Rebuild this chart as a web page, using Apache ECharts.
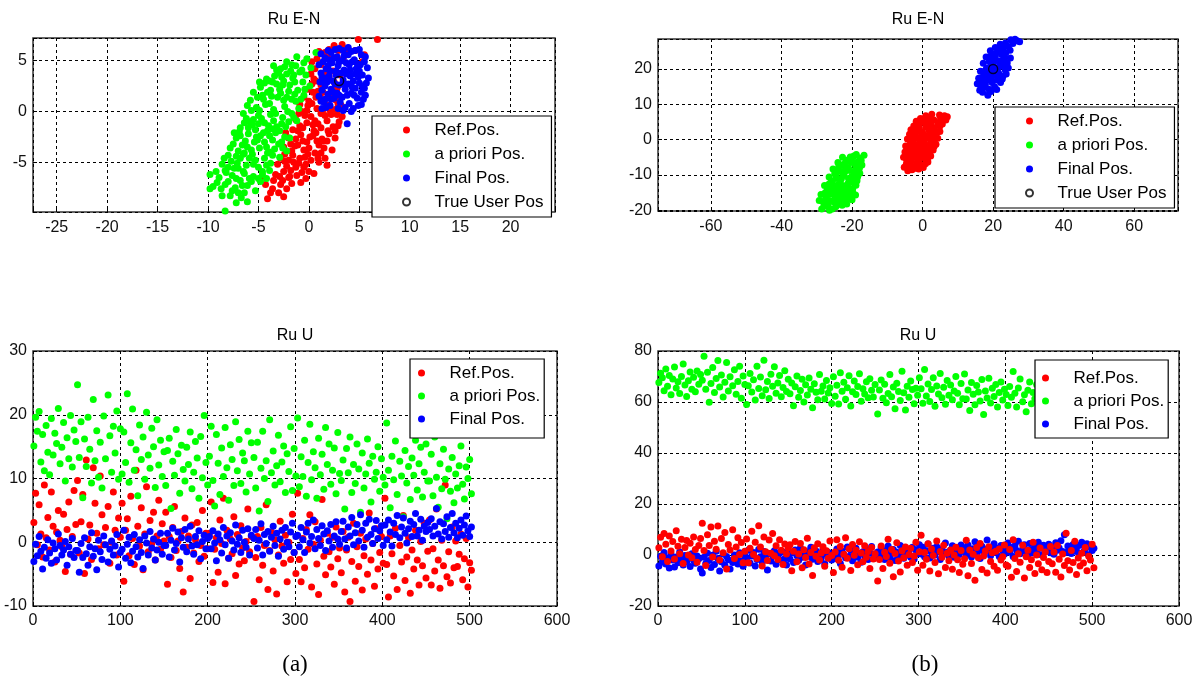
<!DOCTYPE html>
<html>
<head>
<meta charset="utf-8">
<title>Ru E-N / Ru U</title>
<script src="https://cdn.jsdelivr.net/npm/echarts@6.0.0/dist/echarts.min.js"></script>
<style>
html, body { margin: 0; padding: 0; background: #fff; }
#main { width: 1200px; height: 683px; }
</style>
</head>
<body>
<div id="main"></div>
<script>
// (a) top: Ru E-N, east/north in metres
const tlRef = [
  [0.8,5.2],[1.6,5.8],[2.5,6.5],[4.9,7.1],[6.8,7.1],[1.2,4.6],[2.2,4.9],[3.4,5.2],[5.3,4.9],[0.6,4.2],
  [0.5,3.2],[1.2,2.6],[2.0,3.4],[2.8,2.3],[0.9,2.0],[1.7,3.9],[3.1,3.6],[0.3,2.7],
  [-0.5,1.4],[0.3,0.8],[1.1,1.6],[1.9,0.6],[2.6,0.2],[-0.2,0.1],[0.8,0.3],[1.5,1.1],[2.3,1.5],[-0.9,0.7],
  [-1.3,-0.8],[-0.6,-1.6],[0.2,-0.5],[0.9,-1.2],[1.6,-0.4],[2.4,-1.5],[3.0,-1.0],[-1.0,-0.2],[0.5,-1.9],[1.9,-1.9],[-0.2,-1.1],[2.2,-0.3],
  [-2.0,-2.6],[-1.4,-3.4],[-0.8,-2.3],[-0.2,-3.0],[0.4,-2.4],[1.0,-3.3],[1.5,-3.6],[-1.7,-3.9],[-0.5,-3.8],[0.7,-2.1],[2.0,-2.2],[-2.5,-3.5],
  [-2.8,-4.6],[-2.2,-5.4],[-1.6,-4.3],[-1.0,-5.1],[-0.4,-4.5],[0.2,-4.8],[-0.5,-5.5],[-2.5,-5.9],[1.8,-5.3],[-1.8,-5.8],[0.6,-4.1],[-3.1,-5.2],
  [-3.5,-6.8],[-2.8,-7.2],[-2.2,-7.6],[-1.2,-6.3],[-4.1,-8.6],[-3.3,-6.2],[-4.8,-6.6],[-2.0,-6.5],[-4.3,-7.2],
  [-1.1,-1.9],[-0.1,0.6],[1.3,-2.7],[-1.5,-5.0],[0.0,-3.6],[2.7,1.1],[-2.4,-4.2],[1.4,0.2],[-0.7,-6.0],[0.4,1.9],
  [1.0,5.9],[2.0,6.1],[3.3,6.6],[4.6,6.0],[5.5,5.6],[0.2,3.7],[0.7,3.0],[1.4,1.9],[2.5,2.9],[-0.1,2.2],
  [-0.7,0.0],[0.6,-0.9],[1.8,-0.9],[2.8,-0.3],[-0.9,-1.4],[0.1,-2.5],[1.4,-2.9],[-1.3,-2.7],[-0.9,-4.6],[0.9,-4.6],
  [-2.0,-4.8],[-1.3,-5.5],[-2.6,-6.8],[-3.6,-7.6],[-1.7,-7.1],[-3.0,-8.0],[-2.9,-6.4],[0.0,-5.9],[2.6,-2.6],[3.2,0.6],
  [-1.8,-3.2],[-2.3,-2.1],[1.6,-4.6],[-0.3,-6.6],[2.4,4.0],[3.8,6.1],
  [0.3,4.9],[1.9,5.3],[2.9,6.0],[0.0,1.0],[0.7,1.4],[1.2,-0.2],[2.1,0.1],[2.9,0.7],[-0.4,-0.4],[0.4,-1.3],
  [1.2,-1.6],[2.6,-1.9],[-1.6,-1.8],[-0.6,-2.9],[0.8,-2.9],[1.8,-2.9],[-1.1,-3.3],[-0.1,-4.2],[1.2,-4.1],[-2.4,-4.9],
  [-1.9,-6.4],[-0.8,-7.0],[-3.8,-8.0],[-2.5,-8.4],[0.5,-6.1],[1.0,-5.0],[-0.3,-5.2],[2.3,-3.8],[2.9,-1.4],[3.3,-0.5]
];
const tlApriori = [
  [-3.5,4.5],[-2.8,4.2],[-1.2,5.4],[0.7,5.8],[-0.5,4.8],[-2.2,4.9],[0.2,4.3],[-1.8,4.0],[-3.0,3.8],[-0.9,3.9],
  [-4.8,2.4],[-4.2,3.2],[-3.4,3.5],[-2.5,3.0],[-1.6,3.3],[-0.6,2.9],[0.1,2.5],[-3.8,2.1],[-2.9,2.2],[-1.9,2.6],[-1.1,2.1],[-4.4,2.8],[-0.3,3.6],[-2.2,3.7],
  [-5.8,1.1],[-5.2,0.4],[-4.6,1.6],[-3.9,0.8],[-3.1,1.4],[-2.4,0.5],[-1.7,1.2],[-1.0,0.3],[-5.5,1.9],[-4.1,1.9],[-2.8,1.8],[-1.4,1.7],[-3.5,0.2],[-4.9,0.1],[-2.1,0.0],[-6.1,0.6],
  [-6.8,-1.6],[-6.2,-0.7],[-5.6,-1.3],[-5.0,-0.4],[-4.4,-1.1],[-3.8,-0.3],[-3.2,-1.5],[-2.6,-0.6],[-2.0,-1.0],[-1.7,-0.2],[-6.5,-0.2],[-5.3,-1.8],[-4.1,-1.9],[-2.9,-1.9],[-3.5,-0.9],[-4.7,-0.7],
  [-7.8,-3.6],[-7.2,-2.6],[-6.6,-3.3],[-6.0,-2.2],[-5.4,-3.0],[-4.8,-2.4],[-4.2,-3.5],[-3.6,-2.8],[-3.0,-3.2],[-2.4,-2.5],[-2.2,-3.9],[-7.0,-3.9],[-5.7,-3.8],[-4.5,-2.1],[-3.3,-2.1],[-6.3,-2.9],
  [-8.6,-5.2],[-8.0,-4.3],[-7.4,-5.6],[-6.8,-4.6],[-6.2,-5.3],[-5.6,-4.2],[-5.0,-5.5],[-4.4,-4.6],[-3.8,-5.1],[-3.6,-4.3],[-7.7,-4.9],[-6.5,-5.9],[-5.3,-4.8],[-4.6,-5.9],[-9.8,-6.2],[-8.3,-5.8],
  [-9.5,-7.4],[-8.7,-7.6],[-8.9,-6.5],[-8.0,-6.9],[-7.3,-7.5],[-7.6,-6.3],[-6.8,-6.8],[-6.1,-7.3],[-5.5,-6.4],[-6.4,-6.1],[-5.0,-6.6],[-7.0,-8.0],[-4.6,-6.2],[-9.8,-7.6],
  [-6.7,-8.5],[-6.1,-8.9],[-8.3,-9.8],[-7.8,-8.3],[-4.8,-6.9],
  [-2.6,2.6],[-3.6,2.9],[-1.3,4.5],[-0.8,1.2],[-4.3,0.7],[-5.9,-1.0],[-2.7,-1.2],[-5.1,-2.8],[-6.9,-2.0],[-3.9,-4.0],
  [-7.1,-5.1],[-8.2,-6.0],[-5.9,-6.6],[-3.3,-0.2],[-1.4,2.9],[-4.0,-1.4],[-2.2,1.4],[-5.5,-0.8],[-6.5,-4.2],[-4.4,-3.0],
  [-0.2,5.2],[-1.7,4.6],[-2.4,4.4],[-3.2,4.1],[-0.7,4.1],[-1.5,3.6],[-2.7,3.4],[-3.9,3.0],[-4.9,2.9],[-0.4,2.2],
  [-1.3,1.0],[-2.0,2.0],[-3.2,2.7],[-4.5,1.2],[-5.1,1.4],[-5.7,0.1],[-6.4,-1.1],[-3.7,1.5],[-2.5,1.1],[-1.5,-0.6],
  [-2.3,-1.5],[-3.7,-1.7],[-5.0,-1.2],[-6.0,-1.6],[-7.4,-2.1],[-7.5,-3.2],[-6.8,-2.4],[-5.2,-2.5],[-3.9,-2.4],[-2.7,-3.0],
  [-2.6,-3.6],[-3.4,-3.7],[-4.9,-3.6],[-6.1,-3.5],[-6.4,-4.1],[-8.4,-4.6],[-7.2,-4.4],[-5.9,-4.6],[-4.1,-4.1],[-4.2,-5.3],
  [-5.5,-5.2],[-7.0,-5.6],[-8.0,-5.5],[-9.2,-5.9],[-9.1,-7.0],[-8.3,-7.2],[-7.2,-6.6],[-6.6,-7.3],[-5.7,-6.9],[-5.3,-7.8],
  [-6.4,-8.0],[-7.6,-7.8],[-8.6,-8.3],[-7.2,-9.0],[-4.2,-6.6],[-3.9,-5.8],[-2.9,-4.5],[-1.9,-2.6],[-1.2,-0.9],[-0.5,1.6]
];
const tlFinal = [
  [1.0,4.6],[1.2,3.8],[1.1,2.9],[1.3,2.1],[1.0,1.5],[1.6,5.3],[1.7,4.2],[1.8,3.3],[1.6,2.5],[1.9,1.7],[1.5,0.9],
  [2.2,5.8],[2.3,4.8],[2.1,4.0],[2.4,3.0],[2.2,2.2],[2.5,1.3],[2.1,0.6],[2.8,5.4],[2.9,4.5],[2.7,3.6],[3.0,2.6],
  [2.8,1.8],[3.1,0.9],[3.4,6.0],[3.3,5.0],[3.5,4.1],[3.4,3.1],[3.6,2.2],[3.3,1.4],[3.6,0.4],[3.9,5.6],[4.0,4.6],
  [4.1,3.5],[3.9,2.7],[4.2,1.8],[4.0,0.8],[4.6,6.0],[4.5,5.1],[4.7,4.2],[4.4,3.0],[4.6,2.3],[4.8,1.3],[4.4,0.3],
  [5.2,5.6],[5.1,4.6],[5.3,3.6],[5.0,2.8],[5.2,1.9],[5.4,1.2],[5.6,5.4],[5.7,2.8],[5.5,2.3],[3.8,-1.2],[1.3,0.3],
  [2.6,6.1],[1.4,4.9],[2.0,3.5],[3.2,3.8],[2.6,2.7],[3.7,3.7],[4.3,4.9],[4.9,3.4],[3.0,4.9],[1.6,1.2],[2.9,0.3],
  [4.9,0.6],[3.5,5.5],[4.3,2.4],[5.0,4.0],[2.4,1.9],[1.3,3.4],[5.5,4.9],[3.8,1.6],[4.2,5.9],[2.0,5.1],[1.8,2.9],[4.5,1.6],
  [1.2,5.7],[1.9,6.0],[3.0,6.2],[3.9,6.3],[5.0,6.1],[5.8,4.3],[5.9,3.3],[5.6,1.6],[5.2,0.7],[1.2,1.0],[1.7,0.4],
  [3.4,0.1],[4.2,0.0],[2.7,4.0],[3.5,2.7],[4.6,3.7],[1.5,3.0],[2.2,1.2],[4.1,4.1],[3.0,1.6],[5.3,2.5],[2.5,5.3],
  [4.8,4.7],[3.7,4.8],[1.9,4.5]
];
const tlTrue = [[3, 3]];

// (b) top: Ru E-N
const trRef = [
  [-4.2,-8.8],[-3.8,-7.2],[-4.5,-5.8],[-3.2,-6.0],[-2.5,-7.6],[-1.6,-6.5],[-3.6,-4.6],[-2.8,-4.2],[-1.9,-5.0],[-1.0,-5.8],
  [-0.4,-7.2],[0.8,-6.8],[-4.0,-3.1],[-3.1,-2.3],[-2.2,-3.0],[-1.3,-3.8],[-0.4,-4.4],[0.5,-5.1],[1.4,-5.8],[-3.5,-1.2],
  [-2.6,-0.5],[-1.7,-1.6],[-0.8,-2.4],[0.1,-3.1],[1.0,-3.8],[1.9,-4.4],[-2.9,0.5],[-2.0,1.2],[-1.1,0.3],[-0.2,-0.6],
  [0.7,-1.5],[1.6,-2.3],[2.5,-3.0],[-1.8,2.4],[-0.9,3.1],[0.0,2.1],[0.9,1.2],[1.8,0.3],[2.7,-0.8],[3.3,-1.9],
  [-1.0,4.2],[0.1,4.9],[0.9,3.6],[1.8,2.7],[2.7,1.6],[3.5,0.5],[0.6,5.9],[1.5,5.2],[2.4,4.3],[3.3,3.4],
  [4.1,2.2],[2.2,6.3],[3.2,5.6],[4.3,4.8],[5.1,5.9],[6.2,6.8],[7.0,6.5],[4.9,3.8],[-4.6,-6.9],[-2.4,-8.2],[0.3,0.2],[-1.5,-2.0],
  [-5.0,-3.5],[-4.8,-1.8],[-4.3,0.2],[-3.7,1.5],[-3.3,2.8],[-2.5,3.9],[-1.8,5.2],[-0.6,6.0],[0.9,6.8],[2.6,7.2],
  [4.8,7.0],[6.6,5.6],[5.6,4.4],[4.9,2.3],[4.3,0.4],[3.8,-1.3],[3.0,-2.9],[2.3,-4.6],[1.5,-6.3],[0.2,-7.9],
  [-1.1,-8.3],[-3.0,-8.5],[-5.2,-7.8],[-5.4,-5.0],[-2.3,-1.9],[-1.0,-1.2],[0.5,-0.2],[1.6,1.0],[-0.3,1.3],[-2.4,2.0],
  [0.9,-3.0],[-0.6,-4.0],[2.1,-1.3],[3.2,2.5],[-3.0,-3.6],[1.2,4.5],[-1.3,-6.8],[-4.0,-5.0]
];
const trApriori = [
  [-27.5,-20.4],[-28.3,-17.5],[-26.8,-18.8],[-25.6,-19.6],[-21.5,-18.2],[-24.2,-17.6],[-27.4,-16.2],[-26.1,-15.4],[-24.8,-16.3],
  [-23.5,-16.9],[-22.4,-17.1],[-27.0,-14.1],[-25.7,-13.4],[-24.4,-14.2],[-23.1,-15.0],[-21.8,-15.6],[-20.9,-16.2],[-25.9,-11.8],
  [-24.6,-11.0],[-23.3,-12.1],[-22.0,-13.1],[-20.7,-13.8],[-19.8,-14.9],[-24.9,-9.6],[-23.6,-8.9],[-22.3,-10.1],[-21.0,-11.0],
  [-19.7,-12.0],[-18.9,-12.9],[-23.2,-7.2],[-21.9,-7.9],[-20.6,-8.7],[-19.3,-9.6],[-18.4,-10.5],[-21.6,-5.8],[-20.3,-6.5],
  [-19.0,-7.4],[-17.9,-8.1],[-19.5,-4.6],[-17.8,-5.2],[-16.6,-4.4],[-18.5,-6.3],[-26.4,-17.2],[-22.9,-14.0],[-24.0,-12.8],
  [-20.2,-10.6],[-22.7,-9.4],[-25.2,-15.0],[-28.0,-18.9],[-21.0,-14.8],[-23.9,-18.3],[-26.6,-12.6],[-22.1,-6.8],
  [-29.3,-17.2],[-28.8,-15.5],[-27.8,-13.0],[-26.5,-10.6],[-25.4,-8.3],[-24.0,-6.5],[-22.7,-5.0],[-20.5,-4.9],[-18.8,-4.2],
  [-17.4,-5.9],[-17.2,-7.2],[-17.8,-9.5],[-18.6,-11.6],[-19.8,-13.8],[-20.4,-15.4],[-21.6,-16.9],[-22.8,-18.6],[-24.6,-19.0],
  [-26.4,-20.0],[-28.6,-19.6],[-25.3,-17.6],[-27.0,-17.4],[-26.0,-14.1],[-24.0,-15.2],[-22.5,-15.9],[-21.2,-12.5],[-23.0,-11.0],
  [-24.5,-10.2],[-21.0,-8.0],[-19.9,-10.4],[-22.0,-9.0],[-18.9,-8.3],[-20.1,-6.0],[-25.6,-12.5],[-23.6,-13.5],[-21.9,-14.4],
  [-27.6,-15.0],[-23.8,-7.8],[-20.0,-17.0],[-19.0,-15.7]
];
const trFinal = [
  [18.5,12.6],[17.2,14.8],[18.8,14.3],[20.4,15.0],[16.9,16.3],[18.3,16.8],[19.7,16.2],[21.2,16.9],[17.5,18.1],[18.9,18.9],
  [20.3,18.3],[21.6,18.7],[22.8,18.0],[18.1,20.2],[19.4,20.9],[20.8,20.3],[22.2,20.9],[23.4,19.8],[18.9,22.1],[20.2,22.8],
  [21.6,22.3],[22.9,22.7],[24.0,21.7],[19.8,24.2],[21.1,24.7],[22.4,24.1],[23.6,24.6],[21.7,25.8],[22.9,26.1],[24.3,26.4],
  [25.6,27.2],[26.8,28.0],[26.2,28.4],[27.5,27.7],[17.8,15.6],[19.5,17.6],[21.9,21.6],[20.9,19.4],[23.3,23.2],[19.0,23.5],
  [24.8,25.3],[16.5,15.1],[22.6,17.2],
  [15.5,15.8],[15.9,17.4],[16.4,19.4],[17.2,21.6],[18.0,23.4],[19.2,25.2],[20.6,26.1],[22.0,27.0],[23.5,27.4],[25.0,28.3],
  [24.9,23.1],[24.3,20.3],[23.7,18.6],[22.1,16.2],[21.0,14.2],[19.4,13.6],[17.0,13.4],[16.2,14.0],[20.0,21.5],[21.4,20.2],
  [19.2,19.6],[17.4,19.3],[20.6,23.6],[22.7,25.0],[18.6,17.7],[21.4,17.6],[23.1,21.1],[16.8,17.6]
];
const trTrue = [[20, 20]];

// (a) bottom: Ru U per epoch
const blRef = [
  3.1,7.7,-0.4,5.9,1.3,-2.3,9.0,0.7,3.9,-1.2,7.9,2.5,-3.1,1.6,5.0,0.3,-0.7,4.4,-4.6,2.0,6.3,-1.9,0.9,8.1,2.8,
  9.7,-1.7,3.2,7.5,-4.9,12.9,0.5,2.7,-2.7,11.7,6.1,1.4,-1.0,10.4,4.3,-0.4,2.3,5.6,-3.3,0.0,7.9,1.9,-2.0,3.8,0.8,
  6.1,-6.1,1.9,3.7,-2.1,7.2,0.6,-3.5,11.3,2.5,-0.6,5.4,-4.3,1.3,8.7,-1.5,3.4,-0.2,4.7,-2.8,1.0,6.6,-1.1,2.9,0.2,
  4.7,-6.6,0.9,-2.4,2.3,5.6,-1.3,0.2,-4.1,1.7,-7.8,3.8,-0.8,1.0,-5.7,2.7,-1.7,0.4,3.1,-3.0,-0.5,5.0,-2.2,1.4,-1.0,
  1.4,6.3,-6.3,-1.1,0.7,-4.7,3.5,-0.2,6.9,-6.5,1.9,-2.5,0.5,-1.8,4.0,-5.2,1.2,-3.4,2.6,-0.9,-2.9,0.1,5.2,-1.5,0.9,
  -9.3,-2.4,0.9,-5.9,2.3,-3.6,-0.5,5.9,-7.4,-1.3,1.6,-4.5,0.4,-8.1,-2.0,3.3,-0.6,-3.3,1.1,-6.2,0.0,-2.7,4.4,-1.6,-4.9,
  7.7,-2.7,-6.2,0.6,-4.0,2.0,-1.1,4.3,-7.0,-0.3,3.2,-3.4,-8.2,0.3,6.7,-2.2,-5.1,1.4,-1.5,-3.9,0.8,-6.6,2.4,-2.6,-0.9,
  -4.8,1.7,-7.8,-1.2,0.8,-9.3,-3.0,3.0,-6.1,-0.7,-3.8,1.4,-7.5,-2.1,0.5,-5.0,4.6,-2.8,-0.2,-6.9,2.1,-4.2,-1.6,0.9,-3.3,
  6.9,-3.5,-8.6,1.0,-1.8,-5.3,2.2,-7.4,-0.5,-3.1,4.2,-6.0,-2.3,0.7,-8.0,-1.2,-4.2,1.9,-2.8,-6.7,0.1,-3.7,3.0,-5.6,-1.4,
  3.5,-6.7,-1.0,-4.5,5.2,-2.8,-7.2,0.3,-3.7,9.0,-5.4,-1.5,-6.4,2.4,-4.0,0.2,-3.8,-1.9,1.3,-5.9,-2.6,0.6,-7.0,-3.2,-4.4
];
const blApriori = [
  15.1,19.6,17.4,20.5,12.6,16.9,11.2,18.3,14.1,10.6,19.4,13.7,17.1,15.5,21.0,12.3,14.9,18.8,9.6,16.4,13.1,19.9,11.8,17.6,15.8,
  24.7,13.3,18.9,7.0,16.2,11.9,19.6,14.6,9.3,22.4,12.8,17.5,10.2,15.7,8.5,19.8,13.1,23.1,16.7,11.0,18.2,14.0,20.6,9.9,17.8,
  10.7,17.3,12.5,23.3,9.4,15.6,20.9,11.3,14.5,7.3,18.4,13.0,16.5,9.9,20.4,13.7,11.6,17.9,15.0,8.6,19.2,12.1,16.0,10.3,14.2,
  8.9,14.4,16.3,5.3,12.7,10.5,17.7,13.9,7.7,15.2,11.4,9.6,14.9,12.2,17.3,8.4,11.0,15.8,13.2,6.9,16.6,10.1,19.9,12.5,9.0,
  13.5,18.2,9.7,5.7,16.9,12.4,7.5,14.8,10.3,18.0,11.7,6.6,15.3,13.0,8.9,18.9,11.2,16.1,9.2,14.0,12.8,7.9,17.4,10.7,15.6,
  13.3,8.5,15.7,4.9,11.6,17.4,10.0,12.8,6.4,19.2,10.9,14.3,9.0,12.0,16.8,9.5,12.6,15.1,7.8,13.9,11.1,18.1,8.1,14.7,10.4,
  19.5,8.7,13.4,10.3,16.0,7.2,12.5,18.5,9.8,14.2,11.7,6.9,16.3,10.6,13.8,8.3,18.0,12.2,15.4,9.1,11.3,14.8,7.6,17.2,10.8,
  9.7,12.9,5.2,14.7,10.9,16.5,7.8,12.2,9.2,15.4,11.5,4.7,14.0,8.5,10.7,16.2,12.4,6.3,13.5,9.9,11.0,15.0,8.0,13.1,10.2,
  9.0,18.7,11.3,5.4,13.5,9.8,15.9,7.5,12.7,10.4,4.0,14.4,9.3,11.9,6.7,13.2,10.5,16.0,8.2,12.3,14.9,7.1,11.0,15.4,9.6,
  9.6,13.8,7.3,16.5,10.2,5.5,12.3,8.4,14.6,9.9,3.7,11.5,8.0,13.3,6.2,10.7,8.5,12.0,15.1,9.1,6.8,11.8,10.0,13.0,7.6
];
const blFinal = [
  -3.0,-0.3,-2.1,0.9,-1.4,-4.2,-0.8,-2.5,0.4,-1.7,-3.3,-0.1,-1.0,-2.8,1.3,-0.5,-2.0,-1.2,0.1,-3.6,-0.7,-1.9,0.6,-2.4,-1.3,
  -1.3,-4.7,-0.2,-2.4,0.7,-1.8,-3.6,-0.7,1.5,-2.2,-1.0,-4.3,0.3,-1.5,-2.7,1.0,-0.4,-3.1,-1.1,0.2,-2.0,-0.6,1.2,-3.9,-1.6,
  -1.1,1.9,-2.5,-0.3,0.8,-3.2,-1.4,1.2,-0.7,-2.3,0.4,-1.6,-4.1,1.0,-0.1,-2.0,1.7,-0.9,0.5,-2.8,-1.2,0.0,1.4,-1.9,-0.5,
  -0.5,1.4,-2.3,0.3,2.2,-1.2,-0.2,1.6,-3.1,0.7,-0.8,2.0,-1.5,0.5,2.5,-0.6,-1.9,0.9,-0.4,1.8,-2.6,0.1,1.1,-1.0,0.6,
  0.9,-1.0,1.8,-0.1,-2.9,1.3,0.4,-1.7,2.3,-0.4,1.0,-2.5,1.5,0.2,-1.2,2.7,-0.3,0.7,-1.6,1.9,0.0,-0.8,2.1,-2.0,1.1,
  0.6,2.0,-0.9,0.3,2.9,-2.0,1.2,-0.2,1.7,-1.4,0.8,2.5,-0.5,1.4,-2.2,0.5,1.9,-1.1,2.3,0.0,-0.7,1.6,3.0,-1.6,0.9,
  1.1,-0.7,2.3,0.4,-1.6,1.6,3.0,-0.1,0.9,3.5,-1.0,2.0,0.6,-0.5,2.6,1.3,-1.3,1.8,0.2,2.8,-0.8,1.0,3.2,0.5,-0.3,
  1.7,3.3,0.5,-0.9,2.4,1.0,3.9,-0.4,1.5,2.8,0.2,4.3,1.9,-0.8,3.0,0.8,3.6,1.2,-0.2,2.1,3.4,0.6,1.8,2.6,-0.5,
  2.7,0.4,3.5,1.6,-0.6,3.0,1.2,4.2,0.7,2.4,3.8,1.4,-0.1,2.1,3.3,0.9,2.8,4.5,1.0,1.9,3.6,0.3,2.5,1.7,3.1,
  2.0,3.7,1.0,2.5,5.3,1.3,3.2,0.5,2.9,1.7,4.0,0.8,2.3,4.5,1.5,3.0,0.7,2.2,3.5,1.1,2.7,4.1,1.8,0.9,2.4
];

// (b) bottom: Ru U per epoch
const brRef = [
  2.8,7.0,-0.7,8.4,4.2,-2.5,7.5,1.6,5.3,-1.6,9.5,3.4,0.5,6.2,-3.3,2.9,5.7,0.0,4.6,-1.1,7.1,2.2,-2.8,3.7,6.5,
  12.5,1.8,-4.1,7.9,3.7,11.0,-0.8,5.4,2.3,11.4,-2.0,6.5,0.9,8.8,-5.5,4.1,2.0,9.9,-1.4,3.1,6.8,0.2,4.9,-3.0,1.5,
  6.3,-3.0,2.6,9.3,0.2,5.0,-1.4,11.5,3.1,-4.3,7.1,1.3,-2.2,5.9,0.7,8.4,-0.3,3.6,-1.8,6.0,1.9,-3.7,4.3,0.4,2.7,
  4.0,-6.2,1.5,5.3,-2.6,0.4,4.5,-5.0,2.1,-1.0,6.6,-3.5,1.0,-8.0,2.8,-0.5,4.4,-2.0,0.8,3.2,-4.4,1.7,-1.3,5.5,-0.2,
  -6.9,1.2,6.0,-2.1,3.3,-4.8,0.3,6.8,-1.3,2.5,-6.1,4.1,-0.1,1.9,-3.8,5.2,0.8,-2.6,3.6,-0.9,1.4,-5.3,2.9,-1.6,0.5,
  -10.2,-1.8,3.5,-5.3,1.1,-0.6,6.2,-3.2,2.2,-8.5,0.6,4.8,-2.4,-6.7,1.7,-1.1,3.1,-4.0,0.2,2.6,-2.9,-0.4,5.0,-6.0,1.3,
  7.7,-4.0,1.0,-1.7,4.4,-6.3,2.4,-0.2,-2.9,5.5,-7.4,1.4,-0.9,3.8,-4.9,0.7,-2.3,2.0,-5.6,0.0,3.0,-1.9,-6.9,1.8,-3.6,
  -1.5,5.8,-8.1,2.0,-3.3,0.3,-9.9,2.9,-1.1,4.5,-5.7,-0.4,1.6,-7.1,3.2,-2.5,0.9,-4.4,1.5,-6.0,2.4,-2.0,-0.7,3.9,-3.9,
  -4.4,2.2,-8.7,6.0,-1.4,-6.5,0.5,-2.8,3.8,-9.0,-0.7,1.9,-4.9,-1.9,5.0,-7.3,0.0,-3.4,2.7,-5.8,-1.0,1.2,-6.9,-2.5,3.3,
  -3.4,1.2,-6.8,3.7,-1.7,-8.6,0.4,-4.1,8.5,-2.3,-5.9,1.8,-2.9,5.4,-7.6,-1.2,-4.3,0.7,-3.1,2.9,-6.2,-0.5,-2.0,4.2,-5.0
];
const brApriori = [
  67.6,71.3,69.5,64.4,72.9,66.2,70.4,62.8,69.0,73.7,65.5,67.9,63.3,70.0,74.9,66.7,62.2,68.3,71.8,65.0,69.7,64.0,72.2,67.0,70.8,
  68.5,77.9,65.0,71.7,59.9,67.3,73.5,63.7,69.2,76.3,65.9,70.6,62.0,67.7,75.5,64.3,69.9,66.4,72.6,63.0,68.0,74.0,61.5,70.2,66.9,
  59.0,66.4,71.2,63.9,68.7,60.8,74.0,65.3,69.8,62.5,76.4,64.8,68.0,61.4,70.9,66.2,73.8,63.4,67.5,70.4,62.1,65.7,72.3,64.1,68.9,
  63.2,67.5,58.5,66.0,70.2,61.9,64.5,68.9,60.0,66.8,62.7,69.4,65.0,57.7,67.2,63.8,60.9,70.8,64.2,66.3,61.2,68.4,63.5,65.6,59.4,
  69.9,62.3,66.6,59.2,71.5,64.2,67.7,61.1,65.6,70.3,58.4,64.0,68.2,62.9,66.1,71.1,60.3,65.2,63.1,67.9,61.7,69.1,64.6,62.0,66.9,
  55.3,64.7,68.6,61.5,67.0,59.7,63.3,70.8,62.1,65.9,57.4,67.4,64.1,60.6,72.1,63.6,56.9,66.2,61.9,68.2,64.9,59.3,65.4,62.6,69.5,
  65.2,59.5,72.7,62.4,67.1,60.2,64.9,69.5,58.3,66.3,63.1,71.2,61.7,65.8,59.1,68.4,62.6,66.7,60.9,64.3,70.0,63.4,58.9,67.3,61.3,
  71.0,61.2,64.7,56.7,67.6,63.0,58.9,66.5,63.9,60.4,68.8,55.1,64.3,61.6,69.3,59.6,65.4,62.2,66.9,58.0,63.7,67.8,60.8,65.0,62.9,
  58.6,66.1,61.9,72.0,63.4,58.0,65.5,69.0,60.1,62.8,56.2,64.6,67.8,59.3,63.7,61.3,66.9,57.1,64.1,70.5,60.7,62.4,65.9,58.8,63.0,
  60.9,64.1,57.6,62.4,66.6,59.8,63.2,56.5,61.7,65.3,59.0,63.0,60.4,64.7,57.9,61.5,59.4,62.8,65.8,58.3,61.0,63.6,57.2,60.2,62.1
];
const brFinal = [
  -4.3,-0.5,-2.7,1.0,-3.5,-1.2,-5.1,0.3,-2.0,-4.7,-0.8,-3.0,1.2,-1.7,-3.9,-0.2,-2.5,-1.0,-4.5,0.5,-2.2,-3.2,-0.4,-1.5,-5.5,
  -7.1,-0.9,-3.3,0.7,-2.2,-4.9,-0.1,-3.7,1.5,-1.4,-6.3,-2.6,0.4,-4.0,-0.6,-1.9,-5.5,-2.9,0.0,-1.2,-3.5,0.9,-2.4,-4.4,-0.3,
  -1.3,1.9,-3.1,-0.4,1.0,-4.3,-1.8,2.3,-0.7,-2.8,1.4,-1.0,-5.9,0.6,-2.4,0.0,1.7,-3.6,-0.9,0.8,-2.0,1.2,-1.5,-3.9,0.3,
  -1.6,0.8,-2.9,2.0,-0.3,-2.1,2.7,-0.9,0.4,-3.9,1.3,-0.5,3.0,-1.7,0.1,1.6,-2.5,0.6,-1.2,2.3,-3.4,0.2,1.1,-0.8,-2.0,
  0.7,-1.4,2.4,-0.1,-3.3,1.5,0.2,-1.1,3.1,-0.6,1.9,-2.3,1.0,2.6,-0.9,0.5,-2.8,1.3,-0.4,2.0,-1.8,0.9,3.3,-1.3,0.1,
  1.2,-0.4,2.9,0.3,-1.8,1.8,3.5,-0.8,0.7,2.2,-2.2,1.1,-0.2,3.7,0.9,-1.3,2.5,0.1,1.5,-0.9,3.0,-1.6,2.0,0.5,4.0,
  0.4,3.0,-0.7,1.7,4.3,-1.2,1.0,2.6,0.0,3.2,1.4,-1.8,2.3,0.6,4.7,1.1,-0.5,2.0,3.6,-0.9,1.3,2.8,0.2,3.9,1.6,
  2.8,0.2,3.9,1.3,-0.8,2.5,5.2,0.7,2.0,-1.4,3.4,0.9,2.2,5.9,1.5,-0.3,3.0,4.4,1.0,2.6,-0.6,3.7,1.8,0.4,2.3,
  4.7,1.1,2.9,-0.6,3.6,1.8,5.4,0.5,2.4,4.0,1.2,-0.2,4.5,2.1,0.8,3.3,1.6,5.0,2.6,0.0,3.8,1.4,2.9,4.2,0.9,
  3.1,0.3,4.8,1.9,2.7,5.6,1.4,7.9,1.0,3.5,2.2,0.6,4.1,1.7,2.9,0.9,3.8,5.0,1.2,2.4,4.4,0.1,3.2,1.8,2.6
];

const legendNamesEN = ['Ref.Pos.', 'a priori Pos.', 'Final Pos.', 'True User Pos'];
const legendNamesU = ['Ref.Pos.', 'a priori Pos.', 'Final Pos.'];

// pair each value with its epoch number (1..502)
function withEpochs(vals) {
  return vals.map((v, i) => [Math.round(1 + i * 501 / (vals.length - 1)), v]);
}

const font = 'Arial, "Liberation Sans", sans-serif';
const red = '#ff0000', green = '#00ff00', blue = '#0000ff';

// only label the round ticks, hide the labels at the odd axis ends
function every(step) {
  return function (v) {
    const k = v / step;
    return Math.abs(k - Math.round(k)) < 1e-6 ? String(Math.round(v)) : '';
  };
}

function axis(gi, cfg, isX) {
  return Object.assign({
    type: 'value', gridIndex: gi,
    axisLine: { show: false, onZero: false },
    axisTick: { show: true, inside: true, length: 4, lineStyle: { color: '#000' } },
    axisLabel: { color: '#111', fontSize: 16, fontFamily: font, margin: isX ? 7 : 6 },
    splitLine: { show: true, lineStyle: { color: '#000', width: 1, type: [3, 3] } }
  }, cfg);
}

function dots(name, data, color, gi, size) {
  return {
    name: name, type: 'scatter', xAxisIndex: gi, yAxisIndex: gi, data: data,
    symbol: 'circle', symbolSize: size, itemStyle: { color: color, opacity: 1 },
    silent: true, animation: false
  };
}

function ring(data, gi) {
  return {
    name: 'True User Pos', type: 'scatter', xAxisIndex: gi, yAxisIndex: gi, data: data,
    symbol: 'circle', symbolSize: 9, z: 5,
    itemStyle: { color: 'rgba(0,0,0,0)', borderColor: '#000', borderWidth: 1.4 },
    silent: true, animation: false
  };
}

function legendBox(names, left, top, pad, gap) {
  return {
    data: names, orient: 'vertical', left: left, top: top,
    padding: pad, itemGap: gap, itemWidth: 20, itemHeight: 7,
    backgroundColor: '#fff', borderColor: '#000', borderWidth: 1.2,
    selectedMode: false,
    textStyle: { fontFamily: font, fontSize: 17, color: '#000', lineHeight: 18, padding: [0, 0, 0, 13] }
  };
}

const myChart = echarts.init(document.getElementById('main'));
myChart.setOption({
  backgroundColor: '#fff',
  animation: false,
  grid: [
    { left: 33, top: 38, width: 522, height: 174, show: true, borderColor: '#333', borderWidth: 1.5 },
    { left: 658, top: 39, width: 520, height: 172, show: true, borderColor: '#333', borderWidth: 1.5 },
    { left: 33, top: 351, width: 524, height: 255, show: true, borderColor: '#333', borderWidth: 1.5 },
    { left: 658, top: 351, width: 521, height: 255, show: true, borderColor: '#333', borderWidth: 1.5 }
  ],
  xAxis: [
    axis(0, { min: -27.35, max: 24.4, splitNumber: 10, axisLabel: { color: '#111', fontSize: 16, fontFamily: font, margin: 8, formatter: every(5) } }, true),
    axis(1, { min: -75, max: 72.4, splitNumber: 7, axisLabel: { color: '#111', fontSize: 16, fontFamily: font, margin: 8, formatter: every(20) } }, true),
    axis(2, { min: 0, max: 600, interval: 100 }, true),
    axis(3, { min: 0, max: 600, interval: 100 }, true)
  ],
  yAxis: [
    axis(0, { min: -9.9, max: 7.24, splitNumber: 3, axisLabel: { color: '#111', fontSize: 16, fontFamily: font, margin: 6, formatter: every(5) } }, false),
    axis(1, { min: -20.2, max: 28.5, splitNumber: 5, axisLabel: { color: '#111', fontSize: 16, fontFamily: font, margin: 6, formatter: every(10) } }, false),
    axis(2, { min: -10, max: 30, interval: 10 }, false),
    axis(3, { min: -20, max: 80, interval: 20 }, false)
  ],
  legend: [
    legendBox(legendNamesEN, 372, 116, [5, 8, 6, 30], 6),
    legendBox(legendNamesEN, 995, 107, [5, 8, 6, 30], 6),
    legendBox(legendNamesU, 410, 359, [5, 4, 10, 8], 5),
    legendBox(legendNamesU, 1035, 360, [9, 4, 5, 7], 5)
  ],
  series: [
    dots('Ref.Pos.', tlRef, red, 0, 7),
    dots('a priori Pos.', tlApriori, green, 0, 7),
    dots('Final Pos.', tlFinal, blue, 0, 7),
    ring(tlTrue, 0),
    dots('Ref.Pos.', trRef, red, 1, 7),
    dots('a priori Pos.', trApriori, green, 1, 7),
    dots('Final Pos.', trFinal, blue, 1, 7),
    ring(trTrue, 1),
    dots('Ref.Pos.', withEpochs(blRef), red, 2, 7),
    dots('a priori Pos.', withEpochs(blApriori), green, 2, 7),
    dots('Final Pos.', withEpochs(blFinal), blue, 2, 7),
    dots('Final Pos.', withEpochs(brFinal), blue, 3, 7),
    dots('a priori Pos.', withEpochs(brApriori), green, 3, 7),
    dots('Ref.Pos.', withEpochs(brRef), red, 3, 7)
  ],
  graphic: [
    { type: 'text', x: 294, y: 20, style: { text: 'Ru E-N', font: '16px ' + font, align: 'center', verticalAlign: 'middle', fill: '#000' } },
    { type: 'text', x: 918, y: 20, style: { text: 'Ru E-N', font: '16px ' + font, align: 'center', verticalAlign: 'middle', fill: '#000' } },
    { type: 'text', x: 295, y: 336, style: { text: 'Ru U', font: '16px ' + font, align: 'center', verticalAlign: 'middle', fill: '#000' } },
    { type: 'text', x: 918, y: 336, style: { text: 'Ru U', font: '16px ' + font, align: 'center', verticalAlign: 'middle', fill: '#000' } },
    { type: 'text', x: 295, y: 665, style: { text: '(a)', font: '23px "Liberation Serif", "Times New Roman", serif', align: 'center', verticalAlign: 'middle', fill: '#000' } },
    { type: 'text', x: 925, y: 665, style: { text: '(b)', font: '23px "Liberation Serif", "Times New Roman", serif', align: 'center', verticalAlign: 'middle', fill: '#000' } }
  ]
});
</script>
</body>
</html>
